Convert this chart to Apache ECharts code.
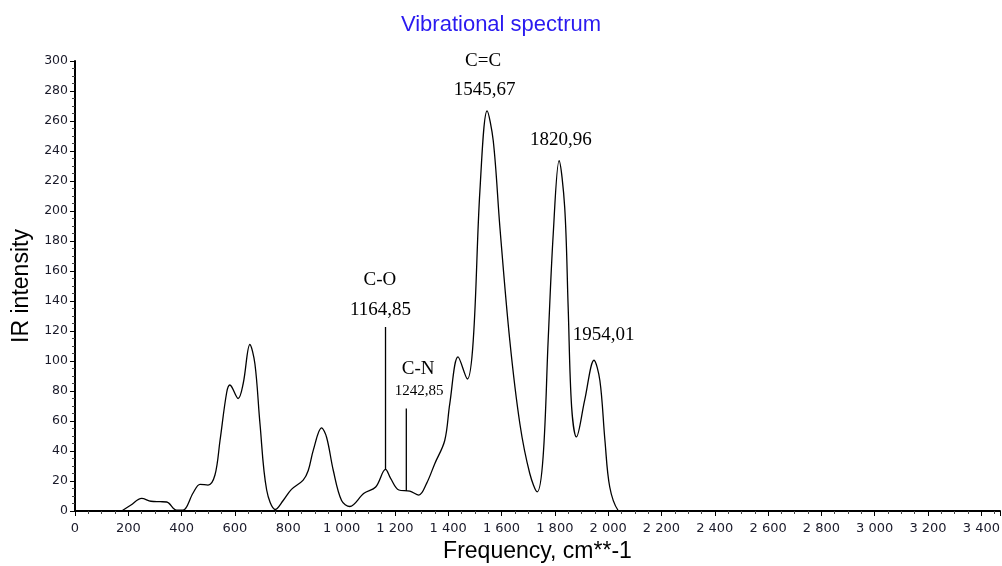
<!DOCTYPE html>
<html>
<head>
<meta charset="utf-8">
<title>Vibrational spectrum</title>
<script src="https://cdn.jsdelivr.net/npm/echarts@6/dist/echarts.min.js"></script>
<style>
    html, body { margin: 0; padding: 0; background: #fff; }
    #spectrum { width: 1002px; height: 566px; }
</style>
</head>
<body>
<div id="spectrum"></div>
<script>

// Spectrum data
// ------------------------------

var frequency = [175, 210, 250, 285, 319, 344, 381, 405, 443, 469, 499, 525, 544, 569, 581, 612, 631, 656, 675, 694,
    719, 752, 781, 812, 856, 875, 894, 925, 944, 969, 1000, 1031, 1084, 1128, 1165, 1184, 1215, 1256, 1290, 1319,
    1350, 1387, 1406, 1437, 1472, 1494, 1519, 1546, 1569, 1594, 1631, 1669, 1706, 1734, 1756, 1775, 1794, 1816, 1837,
    1850, 1863, 1881, 1912, 1947, 1969, 1988, 2006, 2037, 2050];
var intensity = [0, 4, 8.4, 6.5, 6.2, 6, 0.5, 0.5, 12, 17.8, 17.3, 24, 47, 79, 84, 75, 85, 111, 98, 58,
    14, 1, 7, 14.4, 20.6, 27, 40.6, 55.4, 49, 27, 7, 3, 11.8, 16, 27.7, 21.7, 14, 13.3, 10.6, 18.4,
    31.7, 47, 71.6, 102.7, 88, 113.8, 213.6, 266.8, 246.8, 189, 113.8, 58, 25, 12.8, 36, 113.8, 184.7, 233.5, 202.5,
    136, 69.4, 49.4, 73.9, 100.5, 87, 47, 16, 0.5, 0];

// Stick markers for C-O and C-N
var stickFreq = [1164.85, 1242.85];
var stickTop = [122.6, 68.3];
var stickBase = [27.7, 13.3];

// Band annotations
var noteText = ['C-O', '1164,85', 'C-N', '1242,85', 'C=C', '1545,67', '1820,96', '1954,01'];
var noteFreq = [1144, 1146, 1287, 1291, 1531, 1537, 1823, 1983];
var noteValue = [153.7, 133.7, 94.9, 80, 300, 280.6, 247.3, 117.1];


var VibrationalSpectrum = function() {

    var _spectrumChart = function() {
        if (typeof echarts == 'undefined') {
            console.warn('Warning - echarts.min.js is not loaded.');
            return;
        }

        var spectrum_element = document.getElementById('spectrum');
        if (!spectrum_element) {
            return;
        }

        var spectrum = echarts.init(spectrum_element);

        // Styles
        var axisColor = '#000',
            labelColor = '#1a1a2a',
            titleColor = '#2a1af0',
            sansFont = '"Liberation Sans", Arial, sans-serif',
            serifFont = '"Liberation Serif", "Times New Roman", serif';

        // Build series data
        var curve = frequency.map(function(f, i) {
            return [f, intensity[i]];
        });

        var sticks = stickFreq.map(function(f, i) {
            return {
                type: 'line',
                data: [[f, stickTop[i]], [f, stickBase[i]]],
                showSymbol: false,
                silent: true,
                lineStyle: { color: axisColor, width: 1.3 },
                z: 3
            };
        });

        var notes = noteText.map(function(t, i) {
            return {
                value: [noteFreq[i], noteValue[i]],
                label: {
                    show: true,
                    position: 'inside',
                    formatter: t,
                    fontFamily: serifFont,
                    fontSize: t === '1242,85' ? 15 : 19,
                    color: '#000',
                    opacity: 1
                }
            };
        });

        var thousands = function(v) {
            return String(v).replace(/\B(?=(\d{3})+(?!\d))/g, ' ');
        };

        spectrum.setOption({
            animation: false,

            title: {
                text: 'Vibrational spectrum',
                left: 'center',
                top: 9,
                textStyle: {
                    color: titleColor,
                    fontFamily: sansFont,
                    fontWeight: 'normal',
                    fontSize: 22
                }
            },

            grid: {
                left: 75,
                right: 2,
                top: 61,
                bottom: 55,
                outerBoundsMode: 'none'
            },

            // Horizontal axis
            xAxis: {
                type: 'value',
                min: 0,
                max: 3470,
                interval: 200,
                name: 'Frequency, cm**-1',
                nameLocation: 'middle',
                nameGap: 28,
                nameTextStyle: {
                    color: '#000',
                    fontFamily: sansFont,
                    fontSize: 23
                },
                axisLine: { lineStyle: { color: axisColor, width: 2 } },
                axisTick: { length: 5, lineStyle: { color: axisColor } },
                minorTick: { show: true, splitNumber: 4, length: 3, lineStyle: { color: '#444' } },
                axisLabel: {
                    showMaxLabel: false,
                    color: labelColor,
                    fontFamily: '"DejaVu Sans", Verdana, sans-serif',
                    fontSize: 13,
                    margin: 11,
                    formatter: thousands
                },
                splitLine: { show: false }
            },

            // Vertical axis
            yAxis: {
                type: 'value',
                min: 0,
                max: 300,
                interval: 20,
                name: 'IR intensity',
                nameLocation: 'middle',
                nameGap: 41,
                nameRotate: 90,
                nameTextStyle: {
                    color: '#000',
                    fontFamily: sansFont,
                    fontSize: 23
                },
                axisLine: { show: true, lineStyle: { color: axisColor, width: 2 } },
                axisTick: { show: true, length: 5, lineStyle: { color: axisColor } },
                minorTick: { show: true, splitNumber: 4, length: 3, lineStyle: { color: '#444' } },
                axisLabel: {
                    color: labelColor,
                    fontFamily: '"DejaVu Sans", Verdana, sans-serif',
                    fontSize: 12.5,
                    margin: 7
                },
                splitLine: { show: false }
            },

            series: [
                {
                    name: 'IR intensity',
                    type: 'line',
                    data: curve,
                    smooth: 0.35,
                    showSymbol: false,
                    lineStyle: { color: '#000', width: 1.3 },
                    z: 4
                },
                {
                    type: 'scatter',
                    data: notes,
                    symbolSize: 0,
                    itemStyle: { opacity: 1 },
                    clip: false,
                    silent: true,
                    z: 5
                }
            ].concat(sticks)
        });
    };

    return {
        init: function() {
            _spectrumChart();
        }
    };
}();

document.addEventListener('DOMContentLoaded', function() {
    VibrationalSpectrum.init();
});
</script>
</body>
</html>
